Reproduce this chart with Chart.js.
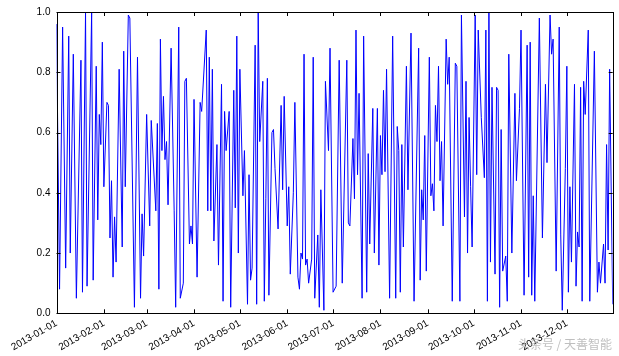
<!DOCTYPE html>
<html>
<head>
<meta charset="utf-8">
<script src="https://cdn.jsdelivr.net/npm/chart.js@4/dist/chart.umd.min.js"></script>
<style>
  html, body { margin: 0; padding: 0; background: #fff; }
  #wrap { width: 619px; height: 356px; }
</style>
</head>
<body>
<div id="wrap"><canvas id="c" width="619" height="356"></canvas></div>
<script>
// Tick labels (month starts of 2013) and their day-of-year positions
const monthLabels = ["2013-01-01","2013-02-01","2013-03-01","2013-04-01","2013-05-01","2013-06-01",
                     "2013-07-01","2013-08-01","2013-09-01","2013-10-01","2013-11-01","2013-12-01"];
const monthStartDays = [0,31,59,90,120,151,181,212,243,273,304,334];
const yTickValues = [0,0.2,0.4,0.6,0.8,1.0];

// Series: day of year (0 = 2013-01-01) and value, read at the visible turning points
const days = [
  0,2,4,6,8,9,11,13,16,17,19,20,23,24,26,27,28,
  29,30,31,33,34,35,36,37,38,39,41,43,44,45,47,48,51,53,55,56,57,59,
  61,62,65,66,67,68,69,70,71,72,73,75,77,78,80,81,83,84,85,87,88,89,90,
  92,94,95,98,99,100,101,102,103,105,106,108,109,110,111,113,114,116,117,118,119,120,122,
  123,125,126,127,128,130,131,132,133,135,136,137,138,139,141,142,143,145,147,148,149,151,152,153,
  155,156,158,159,160,161,162,163,164,165,167,168,169,171,172,173,175,176,178,179,181,183,185,
  187,190,191,192,194,195,196,197,198,200,201,203,204,205,207,208,210,211,212,213,214,215,216,
  218,220,222,223,224,225,226,227,229,230,232,234,237,238,239,240,241,242,244,245,246,247,248,
  249,250,251,252,253,255,256,257,259,261,262,264,265,267,268,269,270,271,272,274,275,276,278,280,
  281,282,283,284,285,287,288,289,290,291,292,294,295,296,298,300,301,303,304,306,308,309,310,
  311,312,313,316,318,320,321,323,324,325,327,329,330,331,333,334,335,336,337,339,340,341,342,
  343,344,345,346,348,349,352,354,355,356,358,359,360,361,362,364
];
const values = [
  0.96,0.08,0.95,0.15,0.92,0.20,0.86,0.05,0.84,0.07,1.00,0.09,1.00,0.11,0.82,0.31,0.66,
  0.56,0.90,0.42,0.70,0.69,0.25,0.44,0.12,0.32,0.17,0.81,0.22,0.87,0.42,0.99,0.98,0.02,0.85,0.05,0.33,0.19,0.66,
  0.29,0.64,0.34,0.63,0.08,0.91,0.54,0.72,0.51,0.57,0.36,0.88,0.34,0.02,0.95,0.05,0.10,0.77,0.78,0.23,0.29,0.23,0.71,
  0.12,0.70,0.67,0.94,0.34,0.85,0.34,0.81,0.24,0.56,0.16,0.76,0.04,0.67,0.54,0.67,0.02,0.74,0.35,0.92,0.20,0.81,0.39,
  0.54,0.03,0.46,0.11,0.15,0.89,0.03,1.00,0.57,0.77,0.04,0.38,0.78,0.06,0.60,0.61,0.48,0.28,0.69,0.41,0.72,0.29,0.42,0.13,
  0.40,0.70,0.12,0.08,0.20,0.18,0.86,0.16,0.18,0.10,0.18,0.85,0.05,0.26,0.02,0.41,0.01,0.77,0.54,0.88,0.07,0.09,0.84,
  0.10,0.84,0.30,0.29,0.58,0.38,0.94,0.46,0.73,0.05,0.92,0.07,0.53,0.23,0.68,0.20,0.68,0.16,0.59,0.46,0.74,0.47,0.81,
  0.05,0.92,0.05,0.62,0.54,0.07,0.56,0.22,0.82,0.41,0.93,0.04,0.88,0.11,0.41,0.31,0.59,0.14,0.85,0.39,0.43,0.34,0.69,
  0.57,0.82,0.44,0.57,0.29,0.91,0.76,0.85,0.04,0.83,0.82,0.04,0.99,0.32,0.77,0.20,0.65,0.42,0.22,0.99,0.46,0.94,0.65,0.45,
  0.94,0.04,1.00,0.17,0.75,0.13,0.75,0.74,0.02,0.61,0.14,0.19,0.04,0.86,0.20,0.73,0.44,0.68,0.94,0.06,0.89,0.12,0.90,
  0.06,0.39,0.04,0.98,0.25,0.76,0.50,0.99,0.86,0.91,0.14,0.95,0.26,0.01,0.48,0.82,0.07,0.42,0.17,0.76,0.09,0.27,0.22,
  0.75,0.04,0.77,0.66,0.94,0.04,0.87,0.07,0.17,0.10,0.23,0.10,0.56,0.21,0.81,0.03
];

const points = days.map((d, i) => ({ x: d, y: values[i] }));

const frameTicks = {
  id: 'frameTicks',
  afterDraw(chart) {
    const { ctx, chartArea: a, scales } = chart;
    const L = 4;
    ctx.save();
    ctx.strokeStyle = '#000';
    ctx.lineWidth = 1;
    ctx.beginPath();
    yTickValues.forEach(v => {
      const y = Math.round(scales.y.getPixelForValue(v)) + 0.5;
      ctx.moveTo(a.left, y); ctx.lineTo(a.left + L, y);
      ctx.moveTo(a.right, y); ctx.lineTo(a.right - L, y);
    });
    monthStartDays.forEach(d => {
      const x = Math.round(scales.x.getPixelForValue(d)) + 0.5;
      ctx.moveTo(x, a.bottom); ctx.lineTo(x, a.bottom - L);
      ctx.moveTo(x, a.top); ctx.lineTo(x, a.top + L);
    });
    ctx.stroke();
    ctx.strokeRect(Math.round(a.left) + 0.5, Math.round(a.top) + 0.5,
                   Math.round(a.right - a.left), Math.round(a.bottom - a.top));
    // watermark
    ctx.fillStyle = 'rgba(175,175,175,0.8)';
    ctx.font = '12px "Noto Sans CJK SC", sans-serif';
    ctx.textBaseline = 'middle';
    ctx.textAlign = 'right';
    ctx.fillText('头条号 / 天善智能', 612, 344);
    ctx.restore();
  }
};

new Chart(document.getElementById('c'), {
  type: 'line',
  data: {
    datasets: [{
      data: points,
      borderColor: '#0000ff',
      borderWidth: 1,
      pointRadius: 0,
      tension: 0,
      fill: false
    }]
  },
  options: {
    responsive: false,
    animation: false,
    events: [],
    layout: { padding: { left: 0, right: 6.3, top: 11.7, bottom: 0 } },
    plugins: { legend: { display: false }, tooltip: { enabled: false } },
    scales: {
      x: {
        type: 'linear',
        min: 0,
        max: 364,
        afterBuildTicks: s => { s.ticks = monthStartDays.map(v => ({ value: v })); },
        afterFit: s => { s.height = 42.7; },
        grid: { display: false, drawTicks: false },
        border: { display: false },
        ticks: {
          autoSkip: false,
          minRotation: 30,
          maxRotation: 30,
          padding: 4,
          color: '#000',
          font: { family: 'Liberation Sans', size: 10 },
          callback: (v, i) => monthLabels[i]
        }
      },
      y: {
        min: 0,
        max: 1,
        afterBuildTicks: s => { s.ticks = yTickValues.map(v => ({ value: v })); },
        afterFit: s => { s.width = 56.5; },
        grid: { display: false, drawTicks: false },
        border: { display: false },
        ticks: {
          padding: 6,
          color: '#000',
          font: { family: 'Liberation Sans', size: 10 },
          callback: v => v.toFixed(1)
        }
      }
    }
  },
  plugins: [frameTicks]
});
</script>
</body>
</html>
